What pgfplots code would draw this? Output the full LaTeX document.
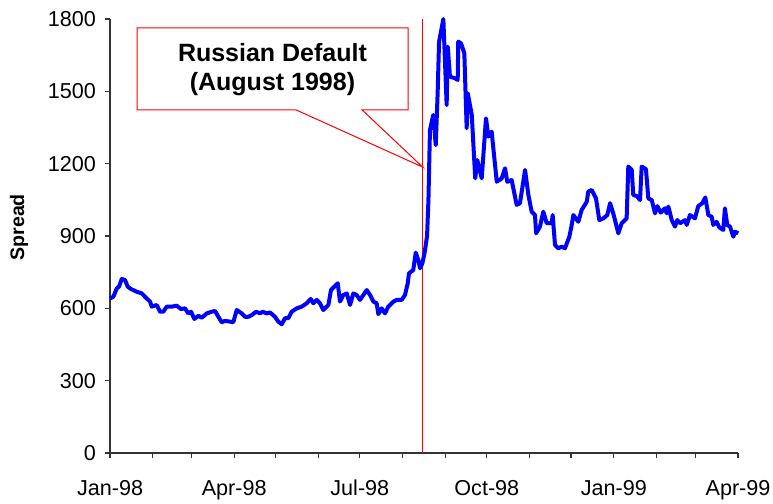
\documentclass[border=0pt]{standalone}
\usepackage{fontspec}
\setmainfont{Liberation Sans}
\usepackage{pgfplots}
\pgfplotsset{compat=1.18}
\definecolor{pureblue}{RGB}{0,0,255}
\definecolor{purered}{RGB}{255,0,0}
\begin{document}
\begin{tikzpicture}
\begin{axis}[
  scale only axis, width=314pt, height=217pt,
  xmin=0, xmax=455, ymin=0, ymax=1800,
  axis lines=left, axis line style={-, black!80, line width=0.6pt},
  clip=false,
  ytick={0,300,...,1800},
  xtick={0,31,59,90,120,151,181,212,243,273,304,334,365,396,424,455},
  xticklabels={Jan-98,,,Apr-98,,,Jul-98,,,Oct-98,,,Jan-99,,,Apr-99},
  tick align=outside, major tick length=2.5pt,
  tick style={black!80, line width=0.6pt},
  ticklabel style={font=\fontsize{10.8}{13}\selectfont},
  /pgf/number format/assume math mode=true,
  /pgf/number format/1000 sep={},
  xticklabel style={yshift=-7.5pt},
  yticklabel style={xshift=-1pt},
]
\addplot[draw=purered, line width=0.6pt] coordinates {(226.5,0) (226.5,1800)};
\addplot[draw=pureblue, line width=2pt, line join=round] coordinates {
(0,641) (2.4,648) (4.9,683) (6.5,690) (8.5,722) (10.9,717) (12.8,690) (15.2,680)
(19.3,669) (23,662) (26.6,641) (29,628) (30.2,607) (33.8,614) (36.2,586) (38.6,586)
(41.1,607) (44.7,607) (48.3,611) (51.4,597) (54.3,600) (56.7,579) (58.7,586) (61.1,556)
(64,569) (66.4,561) (70.1,579) (73.7,586) (76.1,589) (78.5,565) (80.9,542) (83.3,548)
(86.9,545) (89.3,542) (91.8,593) (95.4,579) (97.8,565) (100.2,565) (102.7,572)
(105.8,586) (108.7,579) (110.6,586) (113.5,579) (115.9,583) (119.5,565) (121.9,545)
(124.4,534) (126.8,559) (129.2,559) (131.6,586) (135.3,600) (138.9,607) (142.5,621)
(145.4,639) (147.3,621) (149.8,635) (152.1,621) (154.5,593) (158.2,614) (160.1,676)
(162.5,690) (165,704) (166.6,628) (169,655) (171.5,662) (173.9,614) (176.3,662)
(178.7,655) (181.1,635) (183.5,655) (186,676) (188.4,655) (190.8,628) (193.2,621)
(194.4,576) (196.8,600) (199.2,579) (201.6,607) (205.3,628) (207.7,635) (211.3,635)
(213.7,655) (215.7,704) (216.6,745) (219.7,759) (221.5,831) (223.4,800) (224.6,766)
(226.3,787) (227.9,830) (229.7,900) (230.7,1050) (231.8,1340) (234.2,1402) (236,1277)
(237.4,1499) (238.4,1706) (241.5,1800) (243.9,1443) (244.7,1685) (246.3,1561)
(250,1554) (251.9,1547) (252.3,1706) (254.3,1699) (256.7,1658) (258.4,1347)
(259.2,1492) (262.1,1402) (264.6,1139) (266.1,1215) (269.3,1139)
(272.4,1388) (274.1,1312) (276.5,1333) (280.2,1125) (283.8,1139) (286.2,1181)
(287.8,1125) (291,1132) (292.7,1084) (294.6,1029) (297,1036) (300.7,1174) (303.1,1070)
(305.5,1001) (307.9,987) (308.7,911) (311.5,939) (313.9,1001) (316.4,953) (320,953)
(320.7,987) (322.4,863) (324.8,849) (327.3,856) (329.6,849) (332.8,897) (334.5,946)
(335.7,987) (339.3,959) (341.7,1008) (345.4,1042) (346.5,1084) (349,1091) (352.1,1056)
(354.5,966) (357.4,973) (360.3,987) (362.3,1036) (364.6,994) (368.3,911) (370.7,953)
(374.3,973) (375.5,1188) (378,1174) (379.1,1070) (381.6,1066) (384,1049) (385.2,1188)
(388.3,1177) (390,1056) (392.5,1049) (394.9,994) (396.5,1024) (399,997) (402.1,1015)
(403.3,994) (404.5,1022) (407,966) (409.3,939) (411,966) (413,953) (416.6,966)
(417.8,946) (420.2,987) (423.8,973) (426.2,1024) (429.1,1036) (431.3,1060) (433.5,987)
(435.9,980) (437.1,946) (439.5,959) (441.4,936) (444.3,925) (445.5,1015) (447.2,946)
(449.2,939) (451.6,897) (452.8,918) (455.2,911)
};
\draw[draw=purered, line width=0.5pt, fill=white] (axis cs:19.6,1763) -- (axis cs:215.9,1763) -- (axis cs:215.9,1423) -- (axis cs:182.6,1423) -- (axis cs:226.5,1186) -- (axis cs:134.8,1423) -- (axis cs:19.6,1423) -- cycle;
\node[align=center, font=\bfseries\fontsize{12.5}{14.5}\selectfont] at (axis cs:117.7,1590) {Russian Default\\(August 1998)};
\node[rotate=90, font=\bfseries\fontsize{9.8}{11}\selectfont] at (rel axis cs:-0.145,0.52) {Spread};
\coordinate (bl) at (rel axis cs:-0.1752,-0.1175);
\coordinate (tr) at (rel axis cs:1.0557,1.0438);
\end{axis}
\pgfresetboundingbox
\path (bl) rectangle (tr);
\end{tikzpicture}
\end{document}
